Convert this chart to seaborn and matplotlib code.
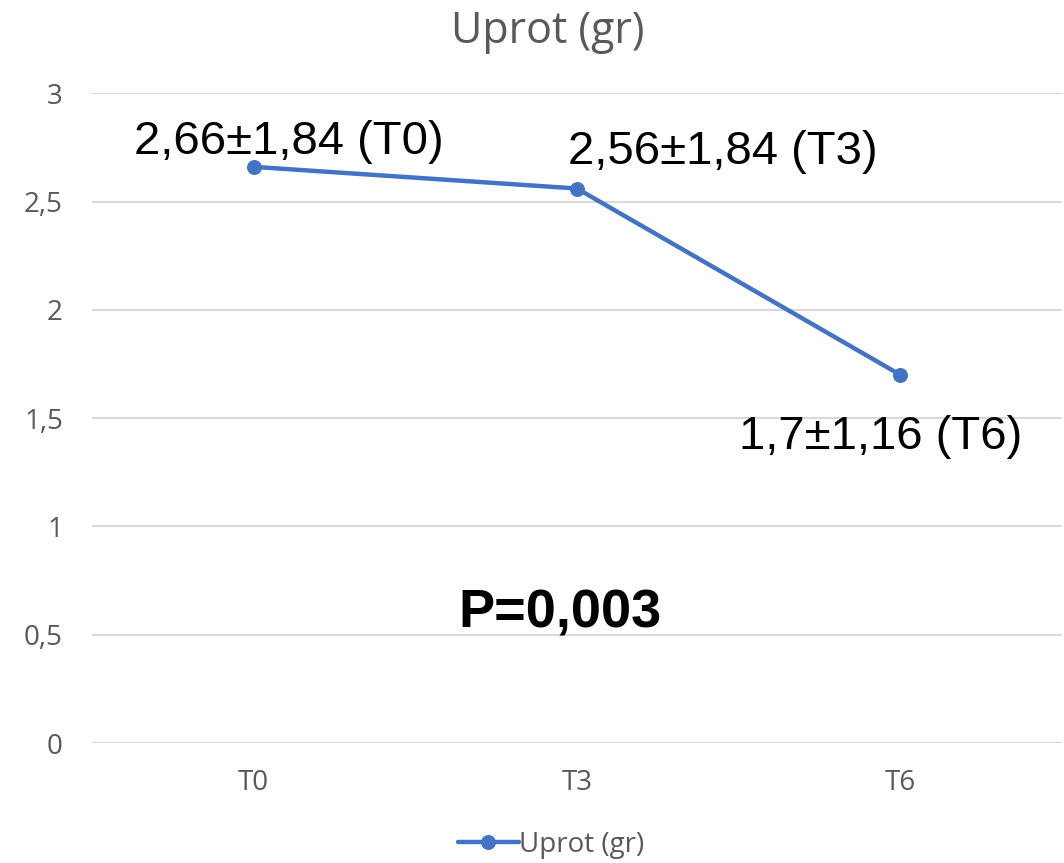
import matplotlib
matplotlib.use("Agg")
import matplotlib.pyplot as plt
import seaborn as sns
import pandas as pd

categories = ["T0", "T3", "T6"]
uprot = [2.66, 2.56, 1.70]
point_labels = ["2,66±1,84 (T0)", "2,56±1,84 (T3)", "1,7±1,16 (T6)"]
y_ticks = [0, 0.5, 1, 1.5, 2, 2.5, 3]
y_tick_labels = ["0", "0,5", "1", "1,5", "2", "2,5", "3"]
p_text = "P=0,003"
series_name = "Uprot (gr)"

df = pd.DataFrame({"Time": categories, "Uprot": uprot})

sns.set_theme(style="white")
plt.rcParams["font.family"] = ["Open Sans", "DejaVu Sans"]

blue = "#4472C4"
grey = "#595959"

fig = plt.figure(figsize=(10.64, 8.63), dpi=100)
ax = fig.add_axes([0.0865, 0.139, 0.9115, 0.753])

sns.lineplot(
    data=df, x="Time", y="Uprot", ax=ax,
    color=blue, linewidth=3.2, marker="o", markersize=10,
    markeredgecolor=blue, label=series_name, sort=False
)

ax.set_xlim(-0.5, 2.5)
ax.set_ylim(0, 3)
ax.set_yticks(y_ticks)
ax.set_yticklabels(y_tick_labels)
ax.yaxis.grid(True, color="#D9D9D9", linewidth=1.5)
ax.xaxis.grid(False)
for s in ax.spines.values():
    s.set_visible(False)
ax.tick_params(axis="both", colors=grey, labelsize=20, length=0)
ax.tick_params(axis="y", pad=21)
ax.tick_params(axis="x", pad=19)
ax.set_xlabel("")
ax.set_ylabel("")

# data labels
offsets = [(25, 18), (105, 26), (-14, -45)]
for i, (lab, off) in enumerate(zip(point_labels, offsets)):
    ax.annotate(
        lab, xy=(i, uprot[i]), xytext=off, textcoords="offset points",
        ha="center", va="center", fontsize=34,
        family=["Liberation Sans", "DejaVu Sans"], color="black"
    )

ax.text(0.4825, 0.2, p_text, transform=ax.transAxes, ha="center", va="center",
        fontsize=39, fontweight="bold",
        family=["Liberation Sans", "DejaVu Sans"], color="black")

fig.text(0.515, 0.963, series_name, ha="center", va="center",
         fontsize=31, color=grey)

ax.legend(loc="center", bbox_to_anchor=(0.473, -0.157), frameon=False,
          fontsize=20, labelcolor=grey, handlelength=2.2, handletextpad=0.0)

fig.savefig("out.png", dpi=100)
